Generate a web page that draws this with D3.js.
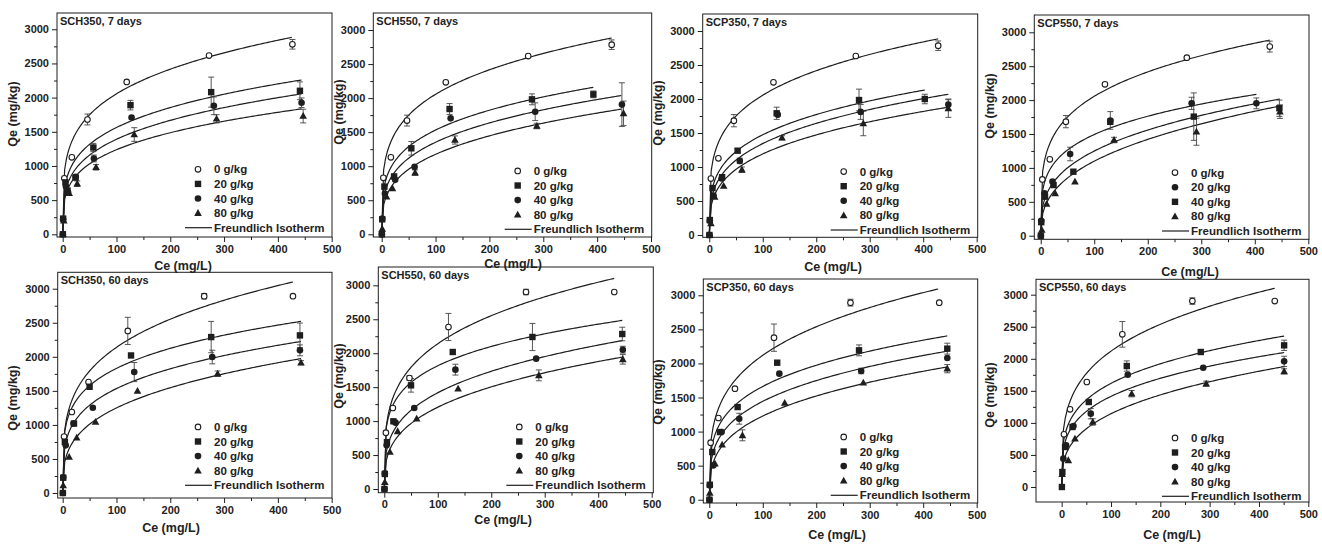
<!DOCTYPE html>
<html><head><meta charset="utf-8">
<script src="https://cdn.jsdelivr.net/npm/d3@7"></script>
<style>
body{margin:0;background:#fff}
text{font-family:"Liberation Sans",Arial,sans-serif;font-weight:bold;fill:#222}
</style>
</head><body>
<svg id="chart" width="1322" height="544"></svg>
<script>
// ---------------- data ----------------
const seriesNames = ["0 g/kg", "20 g/kg", "40 g/kg", "80 g/kg"];
const fitName = "Freundlich Isotherm";
const panelTitles = ["SCH350, 7 days", "SCH550, 7 days", "SCP350, 7 days", "SCP550, 7 days",
                     "SCH350, 60 days", "SCH550, 60 days", "SCP350, 60 days", "SCP550, 60 days"];
const xTicks = [0, 100, 200, 300, 400, 500];
const yTicks = [0, 500, 1000, 1500, 2000, 2500, 3000];
const xTitle = "Ce (mg/L)";
const yTitle = "Qe (mg/kg)";

// SCH350, 7 days
const sch350d7C = [[3, 17, 46, 119, 272, 427], [0.3, 0.8, 5, 9, 24, 57, 126, 276, 441], [0.3, 0.8, 6, 10, 24, 58, 128, 281, 444], [0.5, 2, 8, 12, 27, 62, 133, 286, 447]];
const sch350d7Q = [[820, 1127, 1680, 2230, 2615, 2780], [0, 230, 760, 640, 830, 1270, 1890, 2080, 2100], [0, 220, 700, 610, 840, 1110, 1710, 1880, 1925], [0, 200, 620, 600, 740, 980, 1460, 1690, 1730]];
const sch350d7E = [[0, 0, 80, 0, 0, 70], [0, 0, 0, 0, 0, 60, 70, 220, 130], [0, 0, 0, 0, 0, 50, 0, 130, 70], [0, 0, 0, 0, 40, 40, 100, 60, 100]];
const sch350d7K = [703, 501, 416, 367];
const sch350d7N = [0.233, 0.247, 0.262, 0.264];
const sch350d7End = [426, 444, 444, 444];

// SCH550, 7 days
const sch550d7C = [[3, 17, 47, 119, 272, 427], [0.3, 1, 5, 23, 55, 126, 279, 393], [0.3, 1, 6, 25, 61, 128, 285, 446], [1, 9, 20, 62, 136, 288, 449]];
const sch550d7Q = [[830, 1130, 1670, 2232, 2618, 2785], [0, 220, 700, 850, 1263, 1840, 1982, 2055], [0, 230, 600, 800, 990, 1703, 1800, 1905], [80, 553, 675, 905, 1385, 1590, 1776]];
const sch550d7E = [[0, 0, 80, 0, 0, 70], [0, 0, 0, 0, 100, 80, 80, 50], [0, 0, 0, 0, 0, 0, 130, 320], [0, 0, 0, 40, 60, 40, 180]];
const sch550d7K = [703, 482, 381, 295];
const sch550d7N = [0.233, 0.251, 0.275, 0.30];
const sch550d7End = [427, 393, 445, 445];

// SCP350, 7 days
const scp350d7C = [[3, 17, 46, 120, 274, 428], [0.3, 1, 6, 24, 53, 126, 280, 403], [0.3, 1, 8, 23, 57, 128, 283, 447], [1, 3, 10, 27, 61, 136, 288, 447]];
const scp350d7Q = [[830, 1127, 1681, 2245, 2632, 2784], [0, 220, 690, 850, 1240, 1790, 1985, 2000], [0, 210, 580, 830, 1090, 1770, 1810, 1920], [0, 170, 560, 720, 960, 1430, 1640, 1860]];
const scp350d7E = [[0, 0, 90, 0, 0, 70], [0, 0, 0, 0, 30, 90, 160, 70], [0, 0, 0, 0, 40, 0, 110, 80], [0, 0, 0, 0, 40, 30, 180, 130]];
const scp350d7K = [703, 435, 357, 294];
const scp350d7N = [0.233, 0.265, 0.288, 0.304];
const scp350d7End = [428, 403, 447, 447];

// SCP550, 7 days
const scp550d7C = [[3, 17, 47, 120, 273, 428], [0.3, 1, 7, 22, 55, 130, 282, 403], [0.3, 1, 8, 24, 61, 130, 286, 446], [2, 11, 27, 64, 137, 291, 447]];
const scp550d7Q = [[830, 1126, 1682, 2233, 2626, 2789], [0, 221, 625, 797, 1205, 1700, 1952, 1952], [0, 200, 575, 747, 944, 1680, 1756, 1880], [84, 467, 625, 797, 1411, 1534, 1830]];
const scp550d7E = [[0, 0, 90, 0, 0, 80], [0, 0, 0, 0, 100, 130, 90, 80], [0, 0, 0, 0, 0, 0, 350, 120], [0, 0, 0, 0, 40, 200, 100]];
const scp550d7K = [703, 494, 286, 200];
const scp550d7N = [0.233, 0.24, 0.32, 0.37];
const scp550d7End = [428, 403, 447, 447];

// SCH350, 60 days
const sch350d60C = [[2.5, 17, 48, 121, 263, 428], [0.3, 1, 4, 21, 50, 127, 276, 441], [0.3, 1, 5.6, 20, 56, 133, 278, 441], [1, 12, 26, 61, 139, 288, 443]];
const sch350d60Q = [[830, 1190, 1630, 2380, 2890, 2890], [0, 225, 750, 1020, 1560, 2020, 2290, 2315], [0, 230, 700, 1020, 1253, 1776, 1997, 2095], [110, 528, 812, 1042, 1498, 1752, 1914]];
const sch350d60E = [[0, 0, 0, 200, 40, 0], [0, 0, 0, 0, 0, 0, 230, 180], [0, 0, 0, 0, 0, 140, 100, 80], [0, 0, 0, 0, 0, 40, 30]];
const sch350d60K = [661, 680, 485, 304];
const sch350d60N = [0.255, 0.215, 0.25, 0.307];
const sch350d60End = [428, 443, 443, 443];

// SCH550, 60 days
const sch550d60C = [[3, 16, 47, 120, 265, 430], [0.3, 1, 5, 17, 50, 128, 277, 445], [0.3, 1, 4.4, 21, 56, 133, 284, 446], [1, 10.6, 25, 60.5, 138, 289, 446]];
const sch550d60Q = [[830, 1193, 1635, 2386, 2902, 2902], [0, 221, 690, 997, 1527, 2018, 2239, 2283], [0, 230, 643, 977, 1193, 1758, 1920, 2052], [100, 545, 849, 1036, 1478, 1674, 1910]];
const sch550d60E = [[0, 0, 30, 200, 40, 0], [0, 0, 0, 0, 100, 0, 200, 100], [0, 0, 0, 0, 0, 80, 0, 50], [0, 0, 0, 0, 0, 80, 70]];
const sch550d60K = [661, 690, 373, 276];
const sch550d60N = [0.255, 0.21, 0.29, 0.32];
const sch550d60End = [430, 445, 446, 446];

// SCP350, 60 days
const scp350d60C = [[2.5, 17, 48, 121, 264, 430], [0.3, 1, 5.6, 20, 53, 127, 280, 445], [0.3, 1, 7.5, 23, 56, 131, 284, 445], [1, 10.6, 24, 62, 141, 288, 445]];
const scp350d60Q = [[837, 1199, 1630, 2378, 2892, 2892], [0, 220, 700, 993, 1360, 2011, 2192, 2217], [0, 210, 504, 993, 1189, 1850, 1889, 2080], [100, 528, 807, 945, 1419, 1718, 1923]];
const scp350d60E = [[0, 0, 0, 200, 50, 0], [0, 0, 0, 0, 0, 0, 80, 80], [0, 0, 0, 0, 80, 0, 40, 0], [0, 0, 0, 80, 0, 0, 60]];
const scp350d60K = [640, 533, 405, 296];
const scp350d60N = [0.26, 0.247, 0.276, 0.309];
const scp350d60End = [428, 445, 445, 445];

// SCP550, 60 days
const scp550d60C = [[4.7, 17, 51, 123, 265, 432], [0.5, 1.4, 7, 22, 55, 132, 282, 451], [3.4, 9, 24, 59, 134, 287, 451], [1, 13.5, 27, 63, 142, 293, 451]];
const scp550d60Q = [[821, 1211, 1638, 2381, 2901, 2901], [0, 234, 624, 936, 1326, 1887, 2106, 2210], [442, 650, 951, 1144, 1752, 1861, 1960], [200, 416, 754, 1014, 1456, 1612, 1804]];
const scp550d60E = [[0, 0, 0, 200, 50, 0], [0, 0, 0, 0, 0, 80, 0, 80], [0, 0, 0, 80, 0, 0, 80], [0, 0, 0, 50, 50, 40, 40]];
const scp550d60K = [640, 511, 423, 250];
const scp550d60N = [0.26, 0.25, 0.262, 0.33];
const scp550d60End = [432, 451, 451, 451];

// ---------------- layout ----------------
const layout = [
  {l: 57,     t: 13,    r: 332,   b: 237,   x: [-10.6, 500.6], y: [-39.5, 3238], xl: [183, 266],   yl: [13, 114],   leg: 9.3, shapes: ["open", "square", "circle", "tri"]},
  {l: 373.3,  t: 13,    r: 651.7, b: 237,   x: [-15.6, 501.3], y: [-39.6, 3250], xl: [513, 264],   yl: [339, 112],  leg: 7.7, shapes: ["open", "square", "circle", "tri"]},
  {l: 702.7,  t: 14,    r: 977.7, b: 237.3, x: [-12.3, 501.9], y: [-33.8, 3250], xl: [833, 267],   yl: [658, 113],  leg: 7.3, shapes: ["open", "square", "circle", "tri"]},
  {l: 1034.3, t: 15,    r: 1309,  b: 239.3, x: [-12, 501.3],   y: [-53, 3255],   xl: [1190, 272],  yl: [990, 106],  leg: 8.3, shapes: ["open", "circle", "square", "tri"]},
  {l: 57.7,   t: 272.3, r: 332,   b: 498,   x: [-9.3, 500.6],  y: [-73, 3241],   xl: [171, 528],   yl: [13, 398],   leg: 12.7, shapes: ["open", "square", "circle", "tri"]},
  {l: 378.3,  t: 267,   r: 653.3, b: 492.7, x: [-11.2, 503],   y: [-54.5, 3270], xl: [503, 520],   yl: [339, 376],  leg: 7.4, shapes: ["open", "square", "circle", "tri"]},
  {l: 703.3,  t: 279,   r: 977.7, b: 503,   x: [-11.2, 501.9], y: [-48, 3239],   xl: [837, 535],   yl: [658, 392],  leg: 7.7, shapes: ["open", "square", "circle", "tri"]},
  {l: 1036,   t: 279.3, r: 1309,  b: 502,   x: [-52, 501.4],   y: [-234, 3240],  xl: [1172, 535],  yl: [990, 395],  leg: 5.7, shapes: ["open", "square", "circle", "tri"]}
];

const panelData = [
  [sch350d7C, sch350d7Q, sch350d7E, sch350d7K, sch350d7N, sch350d7End],
  [sch550d7C, sch550d7Q, sch550d7E, sch550d7K, sch550d7N, sch550d7End],
  [scp350d7C, scp350d7Q, scp350d7E, scp350d7K, scp350d7N, scp350d7End],
  [scp550d7C, scp550d7Q, scp550d7E, scp550d7K, scp550d7N, scp550d7End],
  [sch350d60C, sch350d60Q, sch350d60E, sch350d60K, sch350d60N, sch350d60End],
  [sch550d60C, sch550d60Q, sch550d60E, sch550d60K, sch550d60N, sch550d60End],
  [scp350d60C, scp350d60Q, scp350d60E, scp350d60K, scp350d60N, scp350d60End],
  [scp550d60C, scp550d60Q, scp550d60E, scp550d60K, scp550d60N, scp550d60End]
];

// ---------------- drawing ----------------
const svg = d3.select("#chart");
svg.append("rect").attr("width", 1322).attr("height", 544).attr("fill", "#fff");
const ink = "#1e1e1e";

function drawMarker(g, shape, x, y) {
  if (shape === "open") {
    g.append("circle").attr("cx", x).attr("cy", y).attr("r", 2.8).attr("fill", "#fff").attr("stroke", ink).attr("stroke-width", 1.1);
  } else if (shape === "square") {
    g.append("rect").attr("x", x - 3.2).attr("y", y - 3.2).attr("width", 6.4).attr("height", 6.4).attr("fill", ink);
  } else if (shape === "circle") {
    g.append("circle").attr("cx", x).attr("cy", y).attr("r", 3.3).attr("fill", ink);
  } else {
    g.append("path").attr("d", `M${x},${y - 4}L${x + 3.8},${y + 2.8}L${x - 3.8},${y + 2.8}Z`).attr("fill", ink);
  }
}

layout.forEach((L, pi) => {
  const [Cs, Qs, Es, Ks, Ns, Ends] = panelData[pi];
  const xs = d3.scaleLinear().domain(L.x).range([L.l, L.r]);
  const ys = d3.scaleLinear().domain(L.y).range([L.b, L.t]);
  const g = svg.append("g");

  // frame
  g.append("rect").attr("x", L.l).attr("y", L.t).attr("width", L.r - L.l).attr("height", L.b - L.t)
    .attr("fill", "none").attr("stroke", ink).attr("stroke-width", 1);

  // axes
  const xa = g.append("g").attr("transform", `translate(0,${L.b})`)
    .call(d3.axisBottom(xs).tickValues(xTicks).tickSize(5).tickPadding(3).tickFormat(d3.format("d")));
  const xm = g.append("g").attr("transform", `translate(0,${L.b})`)
    .call(d3.axisBottom(xs).tickValues(d3.range(50, 500, 100)).tickSize(3).tickFormat(""));
  const ya = g.append("g").attr("transform", `translate(${L.l},0)`)
    .call(d3.axisLeft(ys).tickValues(yTicks).tickSize(5).tickPadding(3).tickFormat(d3.format("d")));
  const ym = g.append("g").attr("transform", `translate(${L.l},0)`)
    .call(d3.axisLeft(ys).tickValues(d3.range(250, 3250, 500)).tickSize(3).tickFormat(""));
  [xa, xm, ya, ym].forEach(a => {
    a.select(".domain").remove();
    a.selectAll("line").attr("stroke", ink).attr("stroke-width", 1);
    a.selectAll("text").attr("font-size", 11).attr("font-weight", "bold").attr("fill", "#222")
      .attr("font-family", '"Liberation Sans", Arial, sans-serif');
  });

  // titles
  g.append("text").attr("x", L.l + 3).attr("y", L.t + 12).attr("font-size", 11).text(panelTitles[pi]);
  g.append("text").attr("x", L.xl[0]).attr("y", L.xl[1]).attr("dy", "0.35em").attr("text-anchor", "middle")
    .attr("font-size", 12.5).text(xTitle);
  g.append("text").attr("transform", `translate(${L.yl[0]},${L.yl[1]}) rotate(-90)`).attr("dy", "0.35em")
    .attr("text-anchor", "middle").attr("font-size", 12.5).text(yTitle);

  // fitted Freundlich curves (model with parameters)
  const line = d3.line().x(d => xs(d[0])).y(d => ys(d[1]));
  Ks.forEach((K, si) => {
    const pts = d3.range(0, 121).map(i => {
      const c = Ends[si] * i / 120;
      return [c, K * Math.pow(c, Ns[si])];
    });
    g.append("path").attr("d", line(pts)).attr("fill", "none").attr("stroke", ink).attr("stroke-width", 1.2);
  });

  // error bars + markers
  Cs.forEach((cArr, si) => {
    cArr.forEach((c, k) => {
      const q = Qs[si][k], e = Es[si][k];
      if (e > 0) {
        const x = xs(c);
        g.append("line").attr("x1", x).attr("x2", x).attr("y1", ys(q - e)).attr("y2", ys(q + e))
          .attr("stroke", "#444").attr("stroke-width", 0.9);
        [q - e, q + e].forEach(v => g.append("line").attr("x1", x - 3).attr("x2", x + 3)
          .attr("y1", ys(v)).attr("y2", ys(v)).attr("stroke", "#444").attr("stroke-width", 0.9));
      }
    });
  });
  Cs.forEach((cArr, si) => {
    cArr.forEach((c, k) => drawMarker(g, L.shapes[si], xs(c), ys(Qs[si][k])));
  });

  // legend
  const lastY = L.b - L.leg, step = 14.6;
  seriesNames.forEach((name, si) => {
    const y = lastY - step * (4 - si);
    drawMarker(g, L.shapes[si], L.r - 134, y);
    g.append("text").attr("x", L.r - 118).attr("y", y).attr("dy", "0.35em").attr("font-size", 11.5).text(name);
  });
  g.append("line").attr("x1", L.r - 147).attr("x2", L.r - 120).attr("y1", lastY).attr("y2", lastY)
    .attr("stroke", ink).attr("stroke-width", 1.2);
  g.append("text").attr("x", L.r - 118).attr("y", lastY).attr("dy", "0.35em").attr("font-size", 11.5).text(fitName);
});
</script>
</body></html>
